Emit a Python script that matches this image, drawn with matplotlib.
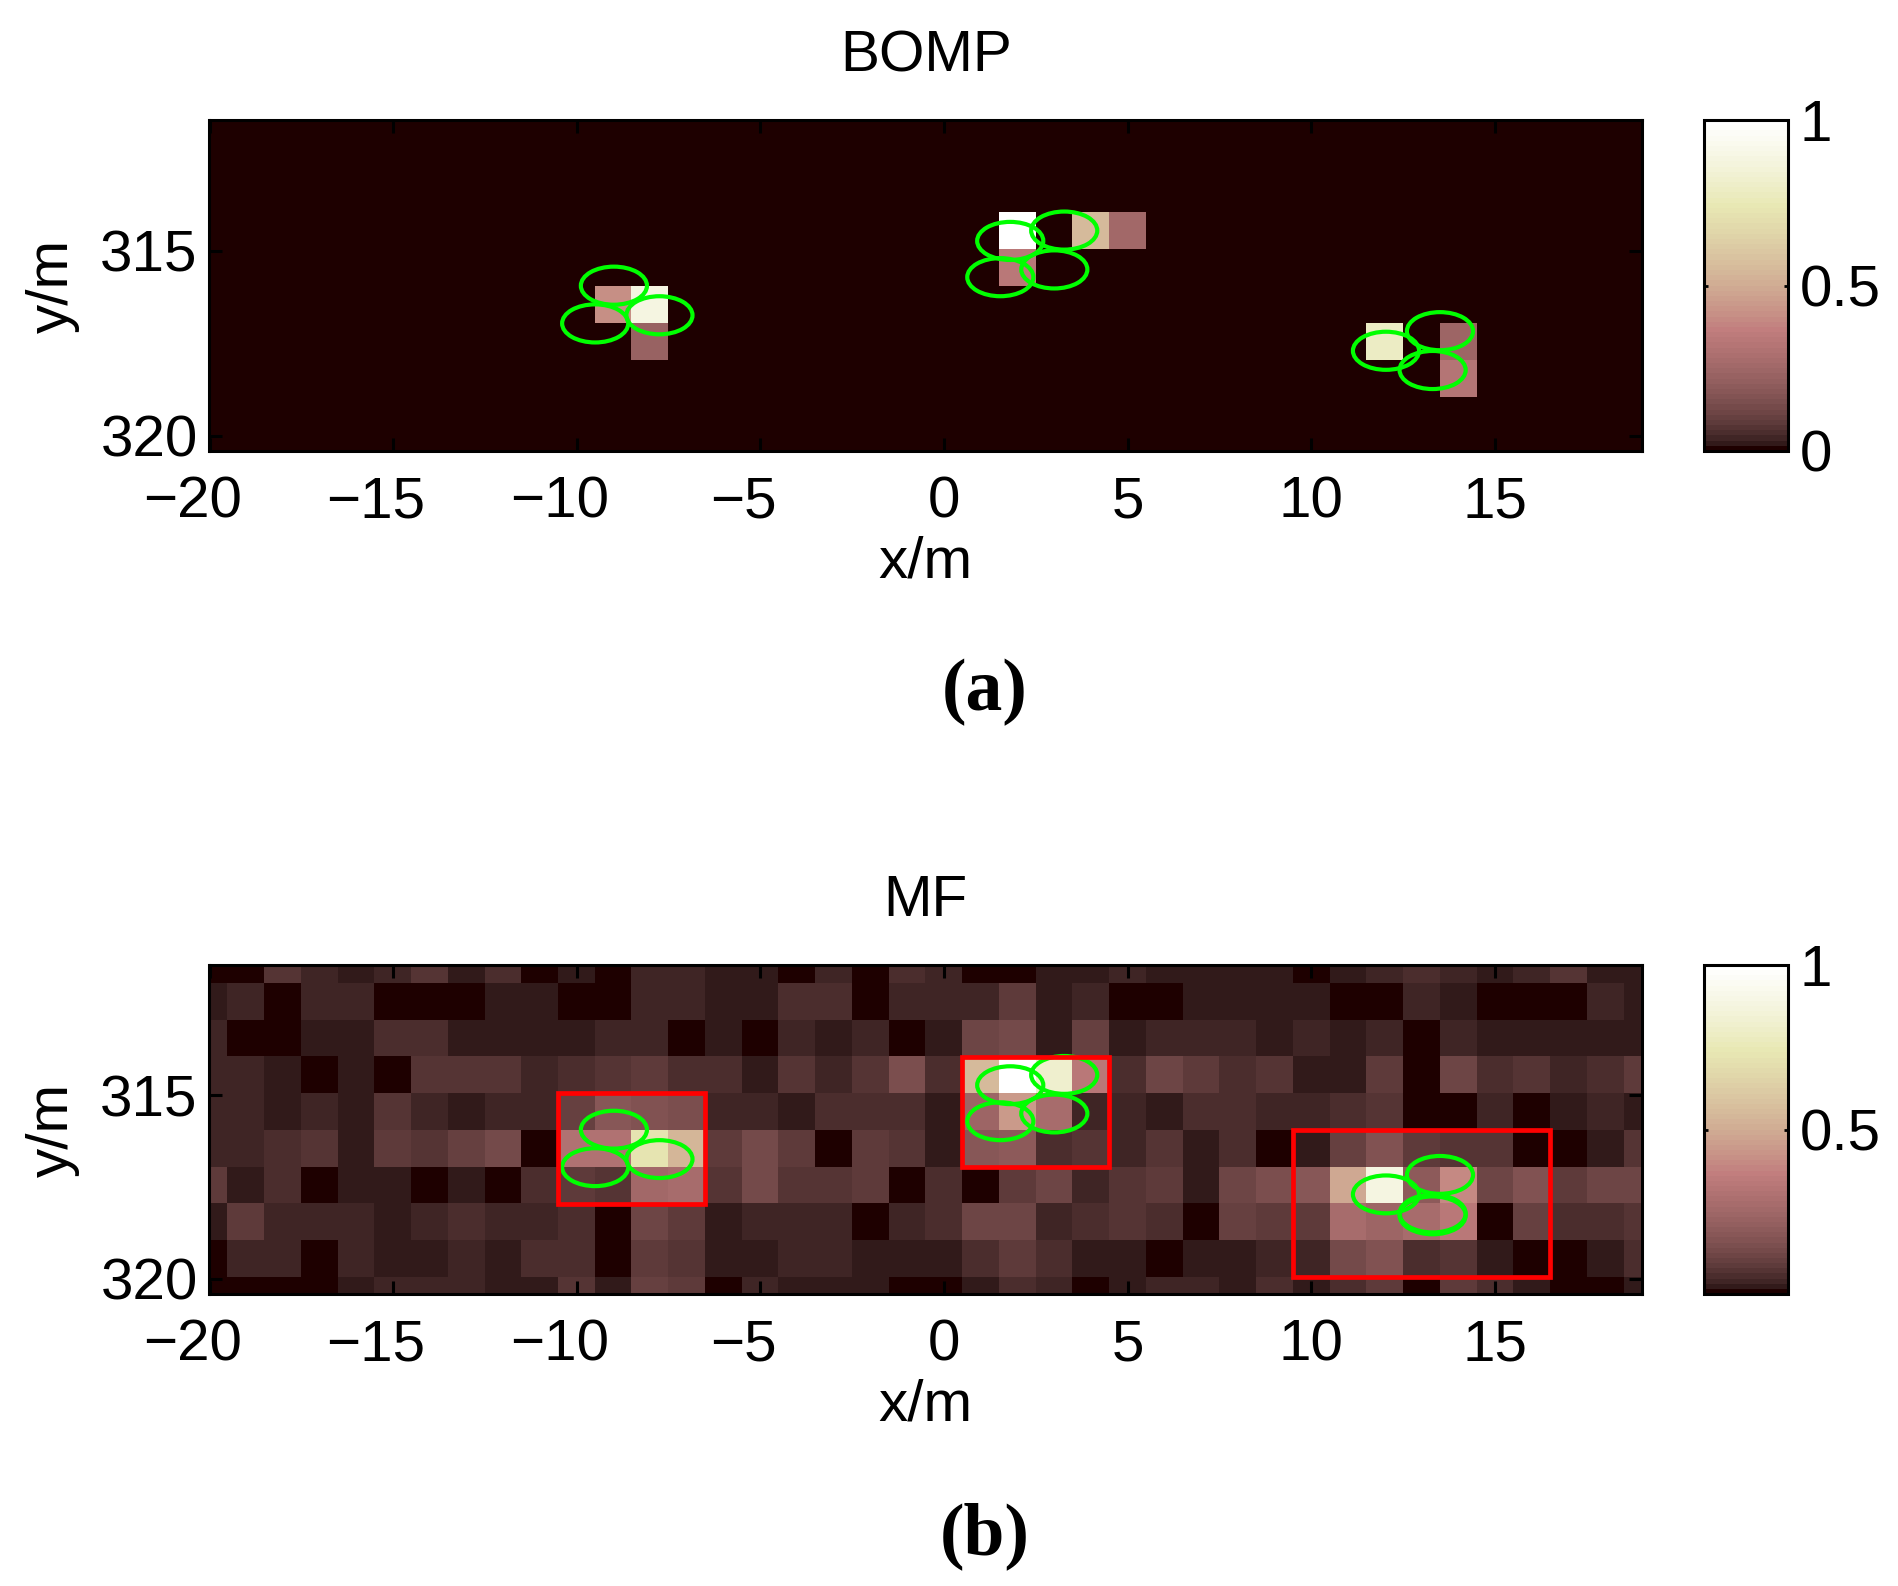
import matplotlib
matplotlib.use("Agg")
import matplotlib.pyplot as plt
import numpy as np
from matplotlib.patches import Ellipse, Rectangle
from matplotlib.transforms import ScaledTranslation

plt.rcParams['font.family'] = ['Liberation Sans', 'DejaVu Sans']

# grid centres
x_cells = list(range(-20, 20))
y_cells = [311.45 + k for k in range(10)]

# MF panel, read as colour levels out of 63 (pink colormap, 64 steps)
mf_levels = [
    [0,0,4,2,1,2,4,1,3,0,1,0,2,2,1,1,0,2,0,3,2,0,0,1,1,2,1,1,1,1,0,1,2,3,2,1,2,4,1,1],
    [1,2,0,2,2,0,0,0,1,1,0,0,2,2,1,1,3,3,0,2,2,2,5,1,2,0,0,1,1,1,1,0,0,2,1,0,0,0,2,1],
    [2,0,0,1,1,3,3,1,1,1,1,2,2,0,1,0,2,1,2,0,1,7,8,1,6,1,2,2,2,1,2,1,2,0,2,1,1,1,1,1],
    [2,2,1,0,1,0,4,4,4,2,3,4,5,3,3,1,4,2,4,9,3,35,63,52,21,3,7,5,3,4,1,1,5,0,7,3,4,2,3,5],
    [2,2,1,2,1,4,2,1,2,2,6,11,10,9,2,2,1,3,3,3,1,15,28,17,2,2,1,3,3,2,2,3,4,0,0,2,0,1,2,1],
    [2,2,3,4,1,5,4,6,8,0,19,19,46,34,5,8,5,0,5,4,1,11,12,3,4,2,4,1,3,0,1,6,10,5,4,4,0,0,1,4],
    [5,1,3,0,1,1,0,1,0,3,5,4,16,17,4,8,4,4,5,0,3,0,5,7,2,4,5,1,7,9,11,31,56,12,25,7,10,5,7,7],
    [1,5,2,2,2,1,2,3,2,2,3,0,7,5,1,2,2,2,0,2,3,7,7,2,3,4,3,0,6,5,5,17,15,17,21,0,6,3,3,4],
    [0,2,2,0,2,1,1,2,1,3,3,0,5,4,1,1,2,2,1,1,1,3,5,3,1,1,0,1,1,2,2,8,10,3,4,1,0,0,1,3],
    [0,0,0,0,1,2,2,2,1,1,4,1,6,5,0,2,1,1,1,0,0,1,3,2,0,1,2,2,1,3,1,3,5,0,5,3,1,0,0,1],
]

# BOMP panel is almost empty, only these cells are lit
bomp_rows = [3, 3, 3, 4, 5, 5, 6, 6, 6, 7]
bomp_cols = [2, 4, 5, 2, -9, -8, -8, 12, 14, 14]
bomp_levels = [63, 35, 16, 21, 26, 56, 14, 50, 15, 20]

# scatterer ellipses, metres
ell_x = [-8.99, -9.50, -7.75, 1.80, 3.27, 3.00, 1.53, 12.03, 13.50, 13.30]
ell_y = [315.94, 316.96, 316.74, 314.73, 314.45, 315.50, 315.71, 317.70, 317.17, 318.22]
ell_w = 1.8
ell_h = 1.03
# the MF panel shows a second, slightly shifted copy of the last one
extra_x = [13.30]
extra_y = [318.27]

# red boxes of the MF panel: x0, x1, y0, y1
box_x0 = [-10.5, 0.5, 9.5]
box_x1 = [-6.5, 4.5, 16.5]
box_y0 = [314.95, 313.95, 315.95]
box_y1 = [317.95, 316.95, 319.95]

xticks = [-20, -15, -10, -5, 0, 5, 10, 15]
yticks = [315, 320]

W, H = 1899, 1586
FS = 42
fig = plt.figure(figsize=(W / 100, H / 100), dpi=100)
cmap = plt.get_cmap('pink', 64)


def rect(x0, y0, x1, y1):
    return [x0 / W, 1 - y1 / H, (x1 - x0) / W, (y1 - y0) / H]


def level_value(levels):
    return (np.array(levels, dtype=float) + 0.5) / 64


def panel(top, bottom, values, title, cbar_ticks, ell_extra):
    ax = fig.add_axes(rect(209.5, top, 1642, bottom))
    im = ax.imshow(values, cmap=cmap, vmin=0, vmax=1, aspect='auto', interpolation='nearest',
                   extent=[x_cells[0] - 0.5, x_cells[-1] + 0.5, y_cells[-1] + 0.5, y_cells[0] - 0.5])
    ax.set_xlim(-20, 19)
    ax.set_ylim(320.41, 311.46)
    ax.set_xticks(xticks)
    ax.set_yticks(yticks)
    ax.tick_params(direction='in', top=True, right=True, length=9.5, width=2.2,
                   labelsize=FS, pad=8.5)
    ax.tick_params(axis='x', pad=17.5)
    for s in ax.spines.values():
        s.set_linewidth(2.2)
    ax.set_title(title, fontsize=FS, pad=35)
    ax.set_xlabel('x/m', fontsize=FS, labelpad=4.5)
    ax.set_ylabel('y/m', fontsize=FS, labelpad=14.5)
    # the digits sit on the tick, the minus sign hangs out to the left
    fig.canvas.draw()
    for tick_value, label in zip(xticks, ax.get_xticklabels()):
        if tick_value < 0:
            label.set_transform(label.get_transform() + ScaledTranslation(-17 / 100, 0, fig.dpi_scale_trans))
    for xc, yc in zip(ell_x + ell_extra[0], ell_y + ell_extra[1]):
        ax.add_patch(Ellipse((xc, yc), ell_w, ell_h, fill=False, ec='#00ff00', lw=3))

    cax = fig.add_axes(rect(1704, top, 1788, bottom))
    cb = fig.colorbar(im, cax=cax, ticks=cbar_ticks)
    cb.ax.set_yticklabels([f'{t:g}' for t in cbar_ticks])
    cb.ax.tick_params(direction='in', left=True, right=True, length=3, width=2,
                      labelsize=FS, pad=8.5)
    cb.outline.set_linewidth(2.2)
    return ax


bomp = np.zeros((len(y_cells), len(x_cells)))
for r, c, v in zip(bomp_rows, bomp_cols, level_value(bomp_levels)):
    bomp[r, c - x_cells[0]] = v
panel(120, 451, bomp, 'BOMP', [0, 0.5, 1], ([], []))

ax_b = panel(965, 1294, level_value(mf_levels), 'MF', [0.5, 1], (extra_x, extra_y))
for x0, x1, y0, y1 in zip(box_x0, box_x1, box_y0, box_y1):
    ax_b.add_patch(Rectangle((x0, y0), x1 - x0, y1 - y0, fill=False, ec='#ff0000', lw=3.4))

fig.text(985 / W, 1 - 692 / H, '(a)', family='Liberation Serif', weight='bold', fontsize=53,
         ha='center', va='center')
fig.text(985 / W, 1 - 1536 / H, '(b)', family='Liberation Serif', weight='bold', fontsize=53,
         ha='center', va='center')

fig.savefig('out.png', dpi=100)
